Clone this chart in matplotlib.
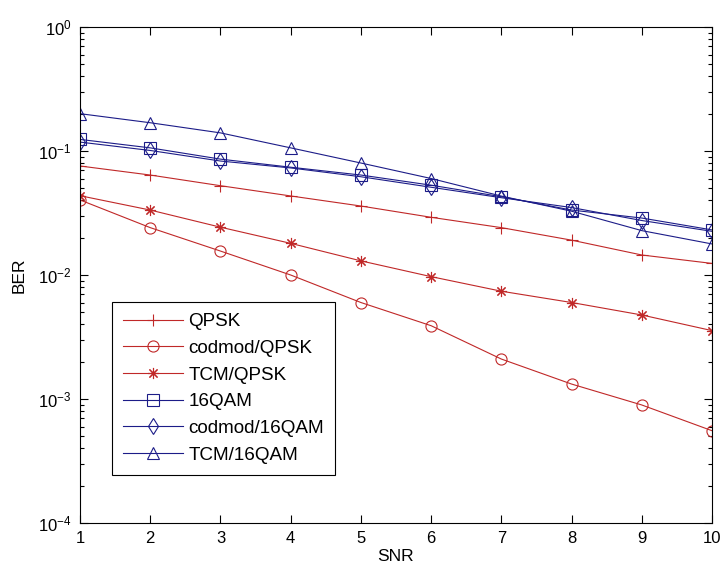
import numpy as np
import matplotlib
matplotlib.use("Agg")
import matplotlib.pyplot as plt

plt.rcParams['font.family'] = ['Liberation Sans', 'DejaVu Sans']
plt.rcParams['mathtext.fontset'] = 'custom'
plt.rcParams['mathtext.rm'] = 'Liberation Sans'

snr = [1, 2, 3, 4, 5, 6, 7, 8, 9, 10]
ber_qpsk = [0.0757, 0.064, 0.0525, 0.0434, 0.036, 0.0292, 0.0241, 0.0191, 0.0145, 0.0124]
ber_codmod_qpsk = [0.0403, 0.0241, 0.0156, 0.0100, 0.0060, 0.0039, 0.0021, 0.00132, 0.000895, 0.000555]
ber_tcm_qpsk = [0.0436, 0.0334, 0.0243, 0.0180, 0.0130, 0.0097, 0.0074, 0.0060, 0.00476, 0.00356]
ber_16qam = [0.124, 0.106, 0.086, 0.074, 0.064, 0.053, 0.0428, 0.0334, 0.0288, 0.0231]
ber_codmod_16qam = [0.118, 0.101, 0.083, 0.073, 0.062, 0.051, 0.042, 0.035, 0.0275, 0.0225]
ber_tcm_16qam = [0.200, 0.169, 0.140, 0.106, 0.080, 0.060, 0.0433, 0.0327, 0.0228, 0.0178]

red = '#c02828'
blue = '#1c1c88'

fig = plt.figure(figsize=(7.23, 5.77), dpi=100)
ax = fig.add_axes([80/723, 1-523/577, 632/723, 496/577])

common = dict(lw=0.8, ms=8, mew=0.8, fillstyle='none')
ax.semilogy(snr, ber_qpsk, '-+', color=red, label='QPSK', **common)
ax.semilogy(snr, ber_codmod_qpsk, '-o', color=red, label='codmod/QPSK', **common)
ax.semilogy(snr, ber_tcm_qpsk, '-', marker=(8, 2, 0), color=red, label='TCM/QPSK', **common)
ax.semilogy(snr, ber_16qam, '-s', color=blue, label='16QAM', **common)
ax.semilogy(snr, ber_codmod_16qam, '-d', color=blue, label='codmod/16QAM', **common)
ax.semilogy(snr, ber_tcm_16qam, '-^', color=blue, label='TCM/16QAM', **common)

ax.set_xlim(1, 10)
ax.set_ylim(1e-4, 1)
ax.set_xticks(snr)
ax.tick_params(which='both', direction='in', top=True, right=True, labelsize=12)
ax.tick_params(which='major', length=6, width=0.8, pad=6)
ax.tick_params(which='minor', length=3, width=0.8)
for s in ax.spines.values():
    s.set_linewidth(0.8)

ax.set_xlabel('SNR', fontsize=12.5, labelpad=2)
ax.set_ylabel('BER', fontsize=12.5, labelpad=8)

leg = ax.legend(loc='lower left', bbox_to_anchor=(0.0506, 0.0968), borderaxespad=0,
                fontsize=13.6, handlelength=3.18, handletextpad=0.26, labelspacing=0.5,
                borderpad=0.6, fancybox=False, framealpha=1)
leg.get_frame().set_edgecolor('black')
leg.get_frame().set_linewidth(0.8)

fig.savefig('out.png', dpi=100)
